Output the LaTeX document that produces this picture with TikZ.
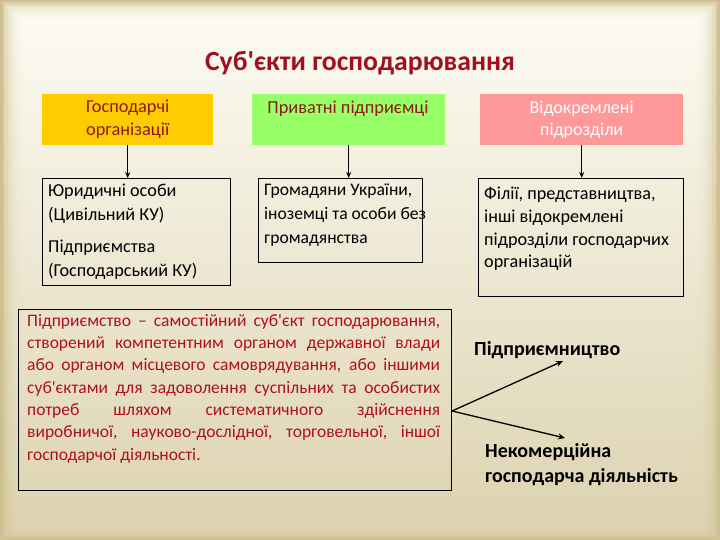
\documentclass[tikz,border=0pt]{standalone}
\usepackage{fontspec}
\setmainfont{Carlito}[Ligatures=TeXOff]
\usetikzlibrary{arrows.meta}
\definecolor{bgedge}{HTML}{CDBF8E}
\definecolor{bgtop}{HTML}{FFFEF7}
\definecolor{bgbot}{HTML}{E0D6B4}
\definecolor{titlered}{HTML}{A0101E}
\definecolor{boxred}{HTML}{8E1A14}
\definecolor{textred}{HTML}{B0101A}
\definecolor{yel}{HTML}{FFCC00}
\definecolor{grn}{HTML}{99FF66}
\definecolor{pnk}{HTML}{FF9999}
\tikzset{
  topbox/.style={draw=none, inner sep=0pt, anchor=north west, align=center},
  lowbox/.style={draw=black, line width=0.8pt, inner sep=0pt, anchor=north west},
  lowtext/.style={inner sep=0pt, anchor=north west, align=left, text=black,
     font=\fontsize{18.2}{24}\selectfont},
  arr/.style={draw=black, line width=0.8pt, -{Stealth[length=6pt,width=5pt]}},
  bigarr/.style={draw=black, line width=1.3pt, -{Stealth[length=7pt,width=6pt]}},
}
\begin{document}
\begin{tikzpicture}[x=1pt,y=-1pt]
\useasboundingbox (0,0) rectangle (720,540);
% background
\fill[bgedge] (0,0) rectangle (720,540);
\foreach \i in {0,...,9}{
  \shade[top color=bgtop, bottom color=bgbot, opacity=0.3]
    (3+2.6*\i,3+2.2*\i) rectangle (717-2.6*\i,537-1.5*\i);
}
% title
\node[font=\fontsize{27.7}{30}\selectfont\bfseries, text=titlered, inner sep=0pt] (title) at (360,63) {Суб'єкти господарювання};
% top boxes
\node[topbox, fill=yel, minimum width=171pt, minimum height=51pt, text=boxred,
  font=\fontsize{18.3}{23}\selectfont] (b1) at (42,94) {Господарчі\\організації};
\node[topbox, fill=grn, minimum width=193pt, minimum height=51pt] (b2) at (252,94) {};
\node[inner sep=0pt, text=boxred, font=\fontsize{18.3}{23}\selectfont] (b2t) at (348,109) {Приватні підприємці};
\node[topbox, fill=pnk, minimum width=203pt, minimum height=51pt, text=white,
  font=\fontsize{18}{21.5}\selectfont] (b3) at (480,94) {Відокремлені\\підрозділи};
% lower boxes
\node[lowbox, minimum width=188pt, minimum height=107pt] (l1) at (42,178) {};
\node[lowtext] (l1t) at (48,184) {Юридичні особи\\(Цивільний КУ)\\[8pt]Підприємства\\(Господарський КУ)};
\node[lowbox, minimum width=164pt, minimum height=84pt] (l2) at (258,178) {};
\node[lowtext, font=\fontsize{17.6}{24}\selectfont] (l2t) at (264,184) {Громадяни України,\\іноземці та особи без\\громадянства};
\node[lowbox, minimum width=205pt, minimum height=118pt] (l3) at (478,178) {};
\node[lowtext, font=\fontsize{18.2}{22.7}\selectfont] (l3t) at (484,187) {Філії, представництва,\\інші відокремлені\\підрозділи господарчих\\організацій};
% arrows
\draw[arr] (b1.south) -- (l1.north -| b1.south);
\draw[arr] (b2.south) -- (l2.north -| b2.south);
\draw[arr] (b3.south) -- (l3.north -| b3.south);
% big box
\node[lowbox, minimum width=433pt, minimum height=181pt] (big) at (18,309) {};
\node[inner sep=0pt, anchor=north west, text=textred, align=left,
  font=\fontsize{17.5}{22.3}\selectfont] (bigt) at (27,314) {%
\makebox[413pt][s]{Підприємство – самостійний суб'єкт господарювання,}\\
\makebox[413pt][s]{створений компетентним органом державної влади}\\
\makebox[413pt][s]{або органом місцевого самоврядування, або іншими}\\
\makebox[413pt][s]{суб'єктами для задоволення суспільних та особистих}\\
\makebox[413pt][s]{потреб шляхом систематичного здійснення}\\
\makebox[413pt][s]{виробничої, науково-дослідної, торговельної, іншої}\\
господарчої діяльності.};
% right texts
\node[inner sep=0pt, anchor=west, font=\fontsize{20}{24}\selectfont\bfseries] (p) at (474,350) {Підприємництво};
\node[inner sep=0pt, anchor=north west, align=left, font=\fontsize{20}{25.5}\selectfont\bfseries] (n) at (485,443) {Некомерційна\\господарча діяльність};
\coordinate (fork) at (452,411);
\coordinate (pe) at (563,361);
\coordinate (ne) at (565,438);
\draw[bigarr] (fork) -- (pe);
\draw[bigarr] (fork) -- (ne);
\end{tikzpicture}
\end{document}
